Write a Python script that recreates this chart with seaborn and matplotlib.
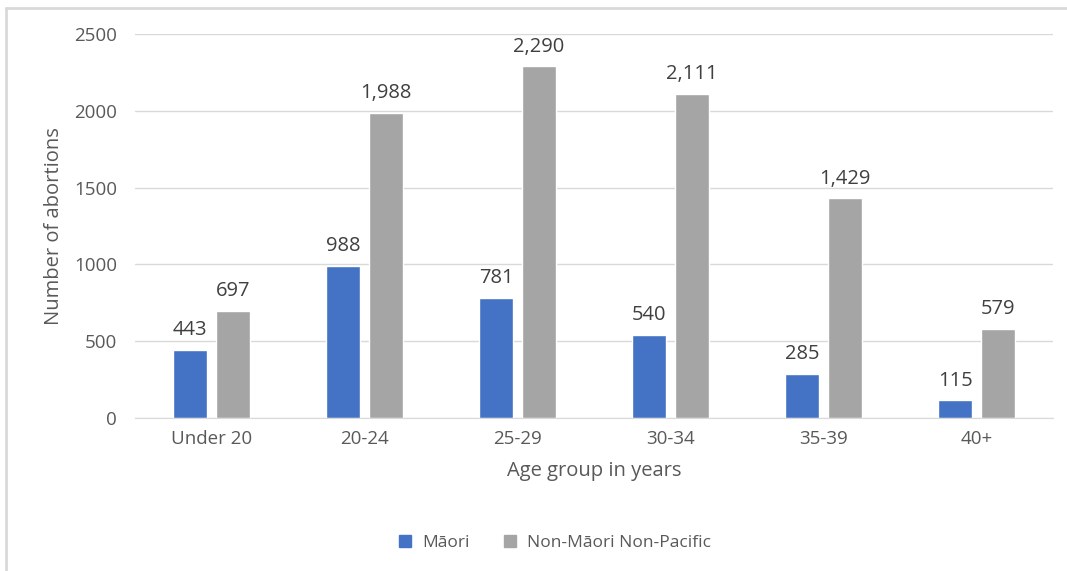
import matplotlib
matplotlib.use('Agg')
import matplotlib.pyplot as plt
import seaborn as sns
import pandas as pd
from matplotlib.lines import Line2D

ages = ['Under 20', '20-24', '25-29', '30-34', '35-39', '40+']
maori = [443, 988, 781, 540, 285, 115]
non_maori = [697, 1988, 2290, 2111, 1429, 579]
groups = ['Māori', 'Non-Māori Non-Pacific']
colors = ['#4472C4', '#A5A5A5']

df = pd.DataFrame({
    'age': ages * 2,
    'group': [groups[0]] * len(ages) + [groups[1]] * len(ages),
    'count': maori + non_maori,
})

sns.set_style('white')
plt.rcParams['font.family'] = ['Open Sans', 'DejaVu Sans']
text_col = '#595959'

fig = plt.figure(figsize=(10.67, 5.71), dpi=100)
ax = fig.add_axes([0.1265, 0.268, 0.8605, 0.6725])

sns.barplot(data=df, x='age', y='count', hue='group', palette=colors,
            width=0.56, gap=0.21, ax=ax, legend=False, saturation=1)

for cont in ax.containers:
    ax.bar_label(cont, labels=[f'{int(v):,}' for v in cont.datavalues],
                 padding=7, fontsize=14.5, color='#404040')

ax.set_ylim(0, 2500)
ax.set_yticks(range(0, 2501, 500))
ax.grid(axis='y', color='#D9D9D9', lw=1)
ax.set_axisbelow(True)
for s in ['top', 'right', 'left']:
    ax.spines[s].set_visible(False)
ax.spines['bottom'].set_color('#D9D9D9')
ax.tick_params(axis='both', length=0, labelsize=13.5, labelcolor=text_col)
ax.tick_params(axis='y', pad=13)
ax.tick_params(axis='x', pad=9)
ax.set_xlabel('Age group in years', fontsize=14.5, color=text_col, labelpad=9)
ax.set_ylabel('Number of abortions', fontsize=14.5, color=text_col, labelpad=7)

handles = [Line2D([], [], marker='s', ls='', color=c, markersize=8) for c in colors]
fig.legend(handles, groups, loc='center', bbox_to_anchor=(0.515, 0.049), ncol=2,
           frameon=False, fontsize=12.5, labelcolor=text_col, handletextpad=0.0,
           columnspacing=1.3)

# light frame on top and left edges
fig.add_artist(Line2D([0.006, 1.0], [0.986, 0.986], color='#D9D9D9', lw=2,
                      transform=fig.transFigure))
fig.add_artist(Line2D([0.006, 0.006], [0.0, 0.986], color='#D9D9D9', lw=2,
                      transform=fig.transFigure))

fig.savefig('out.png', dpi=100)
